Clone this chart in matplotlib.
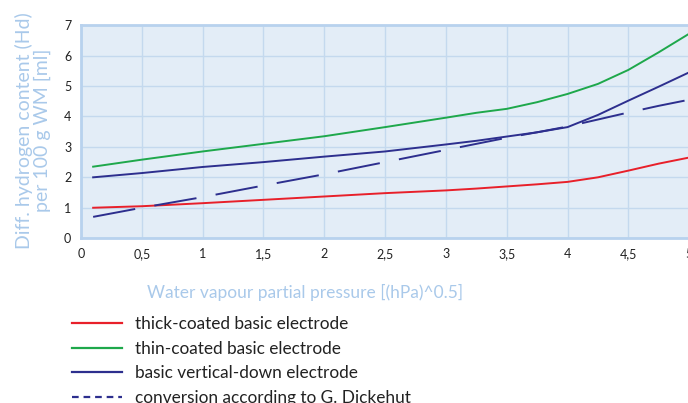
import matplotlib.pyplot as plt
from matplotlib.lines import Line2D

# values
pressure = [0.1, 0.5, 1.0, 1.5, 2.0, 2.5, 3.0, 3.25, 3.5, 3.75, 4.0, 4.25, 4.5, 4.75, 5.0]
thick_coated = [1.0, 1.05, 1.15, 1.26, 1.37, 1.48, 1.57, 1.63, 1.70, 1.77, 1.85, 2.0, 2.22, 2.45, 2.65]
thin_coated = [2.35, 2.58, 2.85, 3.1, 3.35, 3.65, 3.96, 4.12, 4.25, 4.47, 4.74, 5.07, 5.53, 6.11, 6.72]
vertical_down = [2.0, 2.14, 2.34, 2.5, 2.68, 2.85, 3.08, 3.2, 3.34, 3.48, 3.65, 4.05, 4.52, 4.98, 5.45]
dickehut = [0.7, 1.0, 1.35, 1.73, 2.1, 2.5, 2.9, 3.1, 3.3, 3.48, 3.67, 3.9, 4.13, 4.35, 4.55]

labels = ['thick-coated basic electrode', 'thin-coated basic electrode',
          'basic vertical-down electrode', 'conversion according to G. Dickehut']
xticks = [0, 0.5, 1, 1.5, 2, 2.5, 3, 3.5, 4, 4.5, 5]
xtick_labels = ['0', '0,5', '1', '1,5', '2', '2,5', '3', '3,5', '4', '4,5', '5']
yticks = [0, 1, 2, 3, 4, 5, 6, 7]

RED = '#e8202a'
GREEN = '#1ea84b'
NAVY = '#2d2f8e'
LIGHT = '#a9c9ea'

plt.rcParams['font.family'] = ['Lato', 'DejaVu Sans']

fig = plt.figure(figsize=(6.88, 4.03), dpi=100)
ax = fig.add_axes([0.1177, 0.409, 0.884, 0.5285])
ax.set_facecolor('#e3edf7')

ax.plot(pressure, thick_coated, color=RED, lw=1.4)
ax.plot(pressure, thin_coated, color=GREEN, lw=1.4)
ax.plot(pressure, vertical_down, color=NAVY, lw=1.4)
ax.plot(pressure, dickehut, color=NAVY, lw=1.4, dashes=(22, 10))

ax.set_xlim(0, 5.0)
ax.set_ylim(0, 7)
ax.set_xticks(xticks)
ax.set_xticklabels(xtick_labels)
ax.set_yticks(yticks)
ax.tick_params(length=0, labelsize=9, colors='#222222', pad=7)
ax.grid(True, color='#c4d9ee', lw=1.0)
ax.set_axisbelow(True)
for side in ['left', 'bottom', 'top']:
    ax.spines[side].set_color('#b8d2ee')
    ax.spines[side].set_linewidth(2)
ax.spines['right'].set_visible(False)

ax.set_ylabel('Diff. hydrogen content (Hd)\nper 100 g WM [ml]', color=LIGHT,
              fontsize=14, linespacing=1.0)
ax.yaxis.set_label_coords(-0.05, 0.507)

fig.text(0.443, 0.275, 'Water vapour partial pressure [(hPa)^0.5]',
         color=LIGHT, fontsize=12.5, ha='center', va='center')

handles = [Line2D([], [], color=RED, lw=1.6),
           Line2D([], [], color=GREEN, lw=1.6),
           Line2D([], [], color=NAVY, lw=1.6),
           Line2D([], [], color=NAVY, lw=1.6, dashes=(3, 2.2))]
fig.legend(handles, labels, loc='upper left', bbox_to_anchor=(0.095, 0.234),
           frameon=False, fontsize=12.4, handlelength=2.9, handletextpad=0.75,
           labelspacing=0.52, borderaxespad=0, labelcolor='#222222')

fig.savefig('out.png', dpi=100)
